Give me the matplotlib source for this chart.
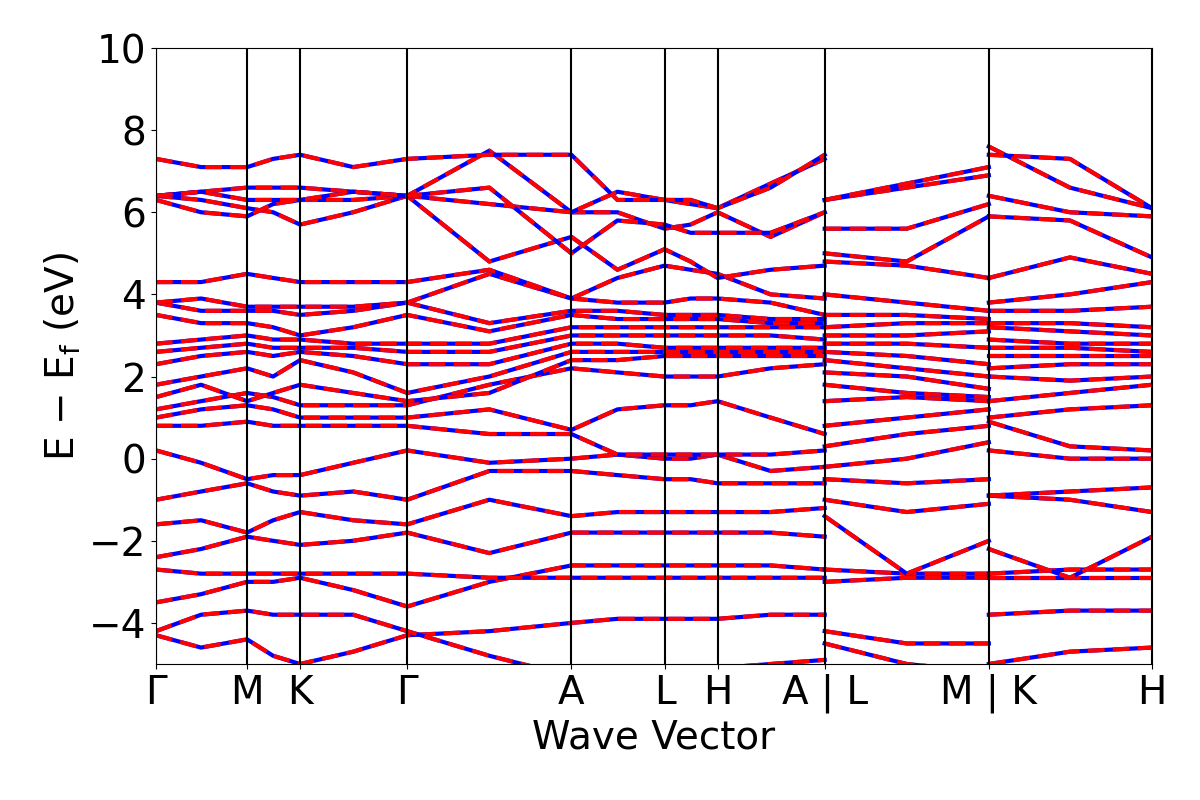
import matplotlib.pyplot as plt
import numpy as np

# high-symmetry points (path distance) and labels
kticks = [0, 91, 144, 251, 415, 508, 561, 668, 832, 995]
klabels = ['Γ', 'M', 'K', 'Γ', 'A', 'L', 'H', 'A | L', 'M | K', 'H']

# k positions of the sampled energies: Γ..A (15), L..M (3), K..H (3)
kx_a = [0, 45, 91, 117, 144, 197, 251, 333, 415, 461, 508, 534, 561, 614, 668]
kx_b = [668, 750, 832]
kx_c = [832, 913, 995]

bands = [
    [-4.3,-4.6,-4.4,-4.8,-5.0,-4.7,-4.3,-4.2,-4.0,-3.9,-3.9,-3.9,-3.9,-3.8,-3.8, -4.5,-5.0,-5.2, -5.0,-4.7,-4.6],
    [-4.2,-3.8,-3.7,-3.8,-3.8,-3.8,-4.2,-4.8,-5.3,-5.4,-5.3,-5.2,-5.1,-5.0,-4.9, -4.2,-4.5,-4.5, -3.8,-3.7,-3.7],
    [-3.5,-3.3,-3.0,-3.0,-2.9,-3.2,-3.6,-3.0,-2.6,-2.6,-2.6,-2.6,-2.6,-2.6,-2.7, -2.7,-2.8,-2.8, -2.8,-2.7,-2.7],
    [-2.7,-2.8,-2.8,-2.8,-2.8,-2.8,-2.8,-2.9,-2.9,-2.9,-2.9,-2.9,-2.9,-2.9,-2.9, -3.0,-2.9,-2.9, -2.9,-2.9,-2.9],
    [-2.4,-2.2,-1.9,-2.0,-2.1,-2.0,-1.8,-2.3,-1.8,-1.8,-1.8,-1.8,-1.8,-1.8,-1.9, -1.4,-2.8,-2.0, -2.2,-2.9,-1.9],
    [-1.6,-1.5,-1.8,-1.5,-1.3,-1.5,-1.6,-1.0,-1.4,-1.3,-1.3,-1.3,-1.3,-1.3,-1.2, -1.0,-1.3,-1.1, -0.9,-1.0,-1.3],
    [-1.0,-0.8,-0.6,-0.8,-0.9,-0.8,-1.0,-0.3,-0.3,-0.4,-0.5,-0.5,-0.6,-0.6,-0.6, -0.5,-0.6,-0.5, -0.9,-0.8,-0.7],
    [0.2,-0.1,-0.5,-0.4,-0.4,-0.1,0.2,-0.1,0.0,0.1,0.0,0.0,0.1,-0.3,-0.2, -0.2,0.0,0.4, 0.2,0.0,0.0],
    [0.8,0.8,0.9,0.8,0.8,0.8,0.8,0.6,0.6,0.1,0.1,0.1,0.1,0.1,0.2, 0.3,0.6,0.8, 0.9,0.3,0.2],
    [1.0,1.2,1.3,1.2,1.0,1.0,1.0,1.2,0.7,1.2,1.3,1.3,1.4,1.0,0.6, 0.8,1.0,1.2, 1.0,1.2,1.3],
    [1.2,1.4,1.6,1.5,1.3,1.3,1.3,1.8,2.2,2.1,2.0,2.0,2.0,2.2,2.3, 1.4,1.5,1.4, 1.4,1.6,1.8],
    [1.5,1.8,1.4,1.6,1.8,1.6,1.4,1.6,2.4,2.4,2.5,2.5,2.5,2.5,2.5, 1.8,1.6,1.5, 2.0,1.9,2.0],
    [1.8,2.0,2.2,2.0,2.4,2.1,1.6,2.0,2.6,2.6,2.6,2.6,2.6,2.6,2.6, 2.1,2.0,1.7, 2.2,2.3,2.3],
    [2.3,2.5,2.6,2.5,2.6,2.5,2.3,2.3,2.8,2.8,2.7,2.7,2.7,2.7,2.7, 2.4,2.2,2.0, 2.5,2.5,2.5],
    [2.6,2.7,2.8,2.7,2.7,2.7,2.6,2.6,3.0,3.0,3.0,3.0,3.0,3.0,2.9, 2.6,2.5,2.3, 2.7,2.7,2.6],
    [2.8,2.9,3.0,2.9,2.9,2.8,2.8,2.8,3.2,3.2,3.2,3.2,3.2,3.2,3.2, 2.8,2.8,2.7, 2.9,2.8,2.8],
    [3.5,3.3,3.3,3.2,3.0,3.2,3.5,3.1,3.5,3.4,3.4,3.4,3.4,3.3,3.3, 3.0,3.0,3.1, 3.2,3.1,3.0],
    [3.8,3.6,3.6,3.6,3.5,3.6,3.8,3.3,3.6,3.6,3.5,3.5,3.5,3.4,3.4, 3.2,3.3,3.3, 3.3,3.3,3.2],
    [3.8,3.9,3.7,3.7,3.7,3.7,3.8,4.5,3.9,3.8,3.8,3.9,3.9,3.8,3.5, 3.5,3.5,3.4, 3.6,3.6,3.7],
    [4.3,4.3,4.5,4.4,4.3,4.3,4.3,4.6,3.9,4.4,4.7,4.6,4.5,4.0,3.9, 4.0,3.8,3.6, 3.8,4.0,4.3],
    [6.4,6.3,6.1,6.0,5.7,6.0,6.4,4.8,5.4,4.6,5.1,4.8,4.4,4.6,4.7, 4.8,4.7,4.4, 4.4,4.9,4.5],
    [6.3,6.0,5.9,6.2,6.3,6.3,6.4,7.5,6.0,6.0,5.6,5.7,6.0,5.4,6.0, 5.0,4.8,5.9, 5.9,5.8,4.9],
    [6.4,6.5,6.3,6.3,6.3,6.5,6.4,6.2,6.0,6.5,6.3,6.2,6.1,6.7,7.3, 5.6,5.6,6.2, 6.4,6.0,5.9],
    [7.3,7.1,7.1,7.3,7.4,7.1,7.3,7.4,7.4,6.3,6.3,6.3,6.1,6.6,7.4, 6.3,6.6,6.9, 7.4,7.3,6.1],
    [6.4,6.5,6.6,6.6,6.6,6.5,6.4,6.6,5.0,5.8,5.7,5.5,5.5,5.5,6.0, 6.3,6.7,7.1, 7.6,6.6,6.1],
]

fig, ax = plt.subplots(figsize=(12, 8), dpi=100)
for b in bands:
    for xs, ys in [(kx_a, b[:15]), (kx_b, b[15:18]), (kx_c, b[18:])]:
        ax.plot(xs, ys, color='blue', lw=3)
        ax.plot(xs, ys, color='red', lw=3, ls=(0, (4, 2)))

for k in kticks:
    ax.axvline(k, color='black', lw=1.5)

ax.set_xlim(kticks[0], kticks[-1])
ax.set_ylim(-5, 10)
ax.set_yticks(range(-4, 11, 2))
ax.set_xticks(kticks)
ax.set_xticklabels(klabels)
ax.tick_params(labelsize=28)
ax.set_xlabel('Wave Vector', fontsize=28)
ax.set_ylabel('E $-$ E$_\\mathregular{f}$ (eV)', fontsize=28)
plt.subplots_adjust(left=0.13, right=0.96, top=0.94, bottom=0.17)
plt.savefig('out.png')
